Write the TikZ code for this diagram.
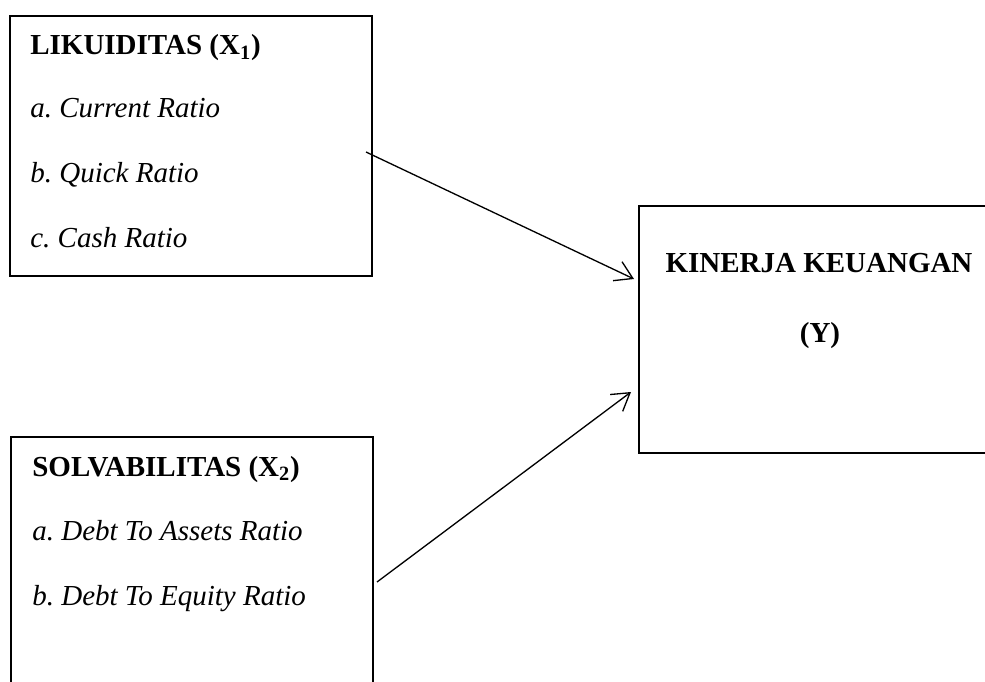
\documentclass[tikz,border=0pt]{standalone}
\usepackage{fontspec}
\setmainfont{Liberation Serif}
\usetikzlibrary{arrows.meta}
\frenchspacing
\tikzset{
	kotak/.style={draw, line width=1pt, anchor=north west, inner sep=0pt, outer sep=0pt},
	teks/.style={anchor=base west, inner sep=0pt, font=\fontsize{16.5}{20}\selectfont},
	judul/.style={anchor=base, inner sep=0pt, font=\fontsize{16.5}{20}\selectfont\bfseries},
	panah/.style={-{Straight Barb[length=0.34cm,width=0.42cm]}, line width=0.75pt}
}

\begin{document}
\begin{tikzpicture}
	\useasboundingbox (0,0) rectangle (19.7,13.62);
	\clip (0,0) rectangle (19.7,13.62);
	% kotak
	\node[kotak, minimum width=7.24cm, minimum height=5.2cm] (likuid) at (0.2,13.3) {};
	\node[kotak, minimum width=7.24cm, minimum height=6cm] (solva) at (0.22,4.88) {};
	\node[kotak, minimum width=8cm, minimum height=4.94cm] (kinerja) at (12.78,9.5) {};
	% isi
	\node[teks] (x1) at (0.6,12.52) {\textbf{LIKUIDITAS (X\textsubscript{1})}};
	\node[teks] (cr) at (0.6,11.26) {\textit{a. Current Ratio}};
	\node[teks] (qr) at (0.6,9.96) {\textit{b. Quick Ratio}};
	\node[teks] (cashr) at (0.6,8.66) {\textit{c. Cash Ratio}};
	\node[teks] (x2) at (0.64,4.1) {\textbf{SOLVABILITAS (X\textsubscript{2})}};
	\node[teks] (dar) at (0.64,2.82) {\textit{a. Debt To Assets Ratio}};
	\node[teks] (der) at (0.64,1.52) {\textit{b. Debt To Equity Ratio}};
	\node[judul] (y) at (16.38,8.16) {KINERJA KEUANGAN};
	\node[judul] (ylbl) at (16.4,6.78) {(Y)};
	% panah
	\coordinate (a1) at (7.32,10.58);
	\coordinate (b1) at (12.68,8.04);
	\coordinate (a2) at (7.54,1.98);
	\coordinate (b2) at (12.62,5.78);
	\draw[panah] (a1) -- (b1);
	\draw[panah] (a2) -- (b2);
\end{tikzpicture}
\end{document}
